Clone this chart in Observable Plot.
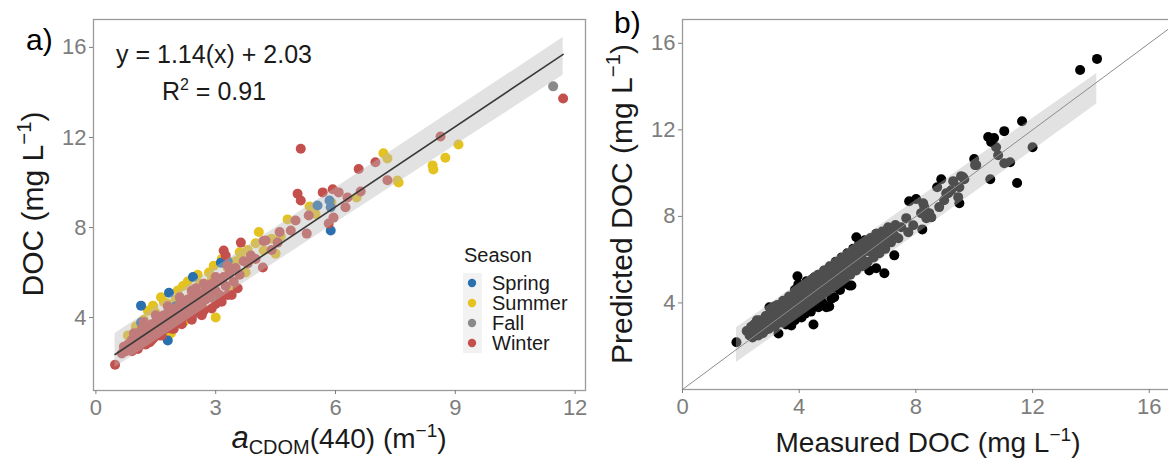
<!DOCTYPE html>
<html>
<head>
<meta charset="utf-8">
<script src="https://cdn.jsdelivr.net/npm/d3@7"></script>
<script src="https://cdn.jsdelivr.net/npm/@observablehq/plot@0.6"></script>
<style>
  html, body { margin: 0; padding: 0; background: #fff; overflow: hidden; }
  #wrap { position: relative; width: 1168px; height: 460px; overflow: hidden; font-family: "Liberation Sans", Arial, sans-serif; }
  #wrap > svg, #wrap > div { position: absolute; top: 0; }
</style>
</head>
<body>
<div id="wrap"></div>
<script>
// ---------- Panel a: DOC vs aCDOM(440) by season ----------
const seasons = ["Spring", "Summer", "Fall", "Winter"];
const seasonColors = ["#2a6fae", "#e4c21f", "#8a8a8a", "#c4504d"];
const xTicksA = [0, 3, 6, 9, 12];
const yTicksA = [4, 8, 12, 16];

const acdomSpring = [1.13, 1.83, 2.43, 3.2, 1.8, 1.13, 5.55, 5.85, 5.88, 5.88, 2.0, 2.6, 3.08, 1.5, 3.3, 3.13];
const docSpring   = [4.53, 5.1, 5.8, 6.44, 2.98, 3.78, 8.98, 9.2, 8.9, 7.87, 4.5, 4.2, 4.98, 3.6, 6.5, 6.44];

const acdomSummer = [1.43, 1.63, 2.18, 2.83, 3.0, 3.63, 4.08, 4.2, 4.5, 4.63, 4.8, 5.35, 6.53, 7.2, 7.3, 7.55, 7.58, 8.43, 8.45, 8.75, 9.08,
                     1.88, 1.2, 1.5, 1.8, 2.0, 2.4, 2.6, 2.9, 3.3, 3.5, 1.0, 0.8, 2.7, 3.4, 2.2, 4.0, 3.9, 4.4, 5.5, 5.9, 1.43, 2.35, 3.75,
                     1.3, 1.7, 2.05, 2.3, 2.55, 3.15, 3.6, 1.1, 2.8, 3.8, 2.95];
const docSummer   = [4.53, 4.9, 5.4, 6.0, 4.0, 6.84, 7.8, 6.98, 6.84, 7.6, 8.36, 8.93, 9.33, 11.3, 11.07, 10.09, 10.0, 10.76, 10.58, 11.1, 11.69,
                     3.3, 3.9, 4.2, 4.6, 4.8, 5.1, 5.5, 5.7, 6.2, 6.5, 3.6, 3.2, 4.4, 5.2, 3.8, 7.3, 6.6, 7.5, 8.6, 9.1, 4.44, 4.3, 6.0,
                     4.3, 4.7, 5.2, 5.6, 5.9, 6.6, 6.9, 3.6, 5.2, 7.0, 6.3];

const acdomFall = [11.45, 2.3, 1.6, 2.9];
const docFall   = [14.27, 4.3, 3.5, 5.0];

const acdomWinter = [0.48, 0.65, 0.7, 0.75, 0.8, 0.85, 0.9, 0.95, 1.0, 1.0, 1.05, 1.1, 1.1, 1.15, 1.2, 1.2, 1.25, 1.3, 1.3, 1.35,
                     1.4, 1.4, 1.45, 1.5, 1.5, 1.55, 1.6, 1.6, 1.65, 1.7, 1.7, 1.75, 1.8, 1.8, 1.85, 1.9, 1.9, 1.95, 2.0, 2.0,
                     2.05, 2.1, 2.1, 2.15, 2.2, 2.2, 2.25, 2.3, 2.3, 2.35, 2.4, 2.45, 2.5, 2.55, 2.6, 2.65, 2.7, 2.75, 2.8, 2.85,
                     2.9, 3.0, 3.05, 3.1, 3.2, 3.25, 3.35, 3.45, 3.5, 3.6, 3.2, 3.25, 3.63, 3.88, 4.18, 4.2, 4.25, 4.55, 4.88, 5.0,
                     5.28, 5.33, 5.05, 5.13, 5.13, 5.68, 5.93, 6.08, 6.3, 6.25, 5.83, 5.95, 6.63, 6.58, 7.0, 7.3, 8.63, 11.7,
                     1.35, 0.95, 2.5, 3.8, 4.0, 4.4, 1.05, 1.25, 1.6, 1.95, 2.4, 2.7, 3.0, 3.3,
                     0.9, 1.15, 1.4, 1.65, 1.9, 2.15, 2.4, 2.65, 2.9, 3.15, 3.4, 1.2, 1.5, 1.8, 2.1, 2.4, 2.7, 3.0, 3.3, 3.7, 4.6, 3.55];
const docWinter   = [1.9, 2.4, 2.7, 2.5, 2.8, 2.6, 3.0, 2.7, 3.1, 2.8, 3.3, 2.9, 3.2, 3.5, 3.1, 3.4, 3.0, 3.6, 3.3, 3.2,
                     3.7, 3.4, 3.1, 3.8, 3.5, 3.3, 3.9, 3.6, 3.4, 4.1, 3.7, 3.5, 4.2, 3.9, 3.6, 4.3, 4.0, 3.7, 4.4, 4.1,
                     3.8, 4.6, 4.2, 3.9, 4.7, 4.4, 4.1, 4.8, 4.5, 4.2, 4.9, 4.6, 4.3, 5.0, 4.7, 4.5, 5.1, 4.8, 5.3, 4.9,
                     5.5, 5.2, 5.6, 5.0, 5.8, 5.4, 6.0, 5.6, 6.2, 5.9, 6.98, 6.76, 7.33, 6.76, 6.22, 7.4, 7.42, 7.33, 7.87, 8.31,
                     7.73, 8.53, 9.5, 9.2, 11.5, 9.56, 9.7, 9.56, 9.33, 8.9, 8.18, 8.44, 9.6, 10.6, 10.9, 10.1, 12.04, 13.73,
                     2.9, 3.3, 5.3, 6.4, 6.6, 7.0, 2.6, 2.8, 3.2, 3.5, 4.0, 4.3, 4.6, 5.0,
                     2.5, 2.8, 3.0, 3.2, 3.5, 3.7, 3.9, 4.1, 4.4, 4.7, 5.0, 3.8, 4.1, 4.5, 4.9, 5.2, 5.5, 5.8, 6.3, 6.5, 7.8, 5.3];

// fitted line and its grey band
const fitX  = [0.48, 11.7];
const fitY  = [2.36, 15.69];
const bandAX  = [0.48, 6.0, 11.7];
const bandALo = [1.78, 8.2, 14.76];
const bandAHi = [3.29, 9.75, 16.44];

// ---------- Panel b: predicted vs measured DOC ----------
const xTicksB = [0, 4, 8, 12, 16];
const yTicksB = [4, 8, 12, 16];
const measuredDOC = [
  1.85, 5.96, 6.64, 3.94, 3.97, 2.98, 3.15, 4.49, 4.93, 5.03, 5.79, 6.4, 6.64, 6.92, 4.93, 4.52, 3.29, 3.73, 4.08, 4.66,
  5.2, 7.26, 5.72, 11.64, 11.03, 10.48, 10.68, 10.58, 12.0, 10.75, 10.82, 11.03, 11.23, 10.55, 11.47, 10.0, 10.03, 8.87, 9.28, 9.55,
  9.66, 9.49, 9.21, 9.11, 8.97, 8.8, 9.45, 8.73, 9.49, 7.77, 8.01, 8.29, 8.53, 8.18, 8.36, 8.22, 7.67, 7.5, 7.91, 7.74,
  7.26, 7.4, 6.92, 6.71, 6.47, 6.13, 13.63, 14.21, 9.62, 9.04, 8.25, 8.46, 10.07,
  2.3, 2.4, 2.4, 2.5, 2.5, 2.6, 2.6, 2.7, 2.7, 2.8, 2.8, 2.9, 2.9, 3.0, 3.0, 3.0, 3.1, 3.1, 3.2, 3.2,
  3.2, 3.3, 3.3, 3.4, 3.4, 3.4, 3.5, 3.5, 3.5, 3.6, 3.6, 3.6, 3.7, 3.7, 3.8, 3.8, 3.8, 3.9, 3.9, 3.9,
  4.0, 4.0, 4.0, 4.1, 4.1, 4.2, 4.2, 4.2, 4.3, 4.3, 4.4, 4.4, 4.4, 4.5, 4.5, 4.6, 4.6, 4.7, 4.7, 4.8,
  4.8, 4.9, 4.9, 5.0, 5.0, 5.1, 5.2, 5.2, 5.3, 5.4, 5.4, 5.5, 5.6, 5.6, 5.7, 5.8, 5.8, 5.9, 6.0, 6.0,
  6.1, 6.2, 6.3, 6.4, 6.5, 6.6, 6.7, 6.8, 6.9, 7.0, 7.1, 7.2, 2.2, 2.35, 2.55,
  2.45, 2.65, 2.85, 3.05, 3.25, 3.45, 3.65, 3.85, 4.05, 4.25, 4.45, 4.65, 4.85, 5.05, 5.25, 5.45, 5.65, 5.85, 6.05, 6.25,
  6.45, 6.65, 6.85, 7.05, 7.3, 2.75, 2.95, 3.15, 3.35, 3.55, 3.75, 3.95, 4.15, 4.35, 4.55, 4.75, 4.95, 5.15, 5.35, 5.55,
  5.75, 5.95, 6.15, 6.35, 6.55, 6.75, 6.95, 7.15, 3.55, 3.85, 4.2, 4.4, 4.8, 5.1, 5.4, 5.6];
const predictedDOC = [
  2.18, 7.04, 7.2, 5.23, 4.86, 3.8, 3.84, 3.0, 3.8, 3.84, 4.81, 5.5, 5.6, 5.37, 5.51, 5.19, 2.59, 2.96, 3.33, 3.8,
  4.26, 6.2, 4.81, 12.4, 11.94, 11.67, 11.62, 11.44, 11.2, 11.2, 10.83, 10.46, 10.5, 9.72, 9.54, 10.65, 10.37, 9.72, 9.63, 9.86,
  9.72, 9.35, 9.21, 9.07, 8.75, 8.43, 8.89, 9.35, 8.61, 8.7, 8.8, 8.43, 7.96, 8.15, 7.92, 7.4, 7.92, 7.5, 7.59, 7.27,
  7.13, 6.99, 6.9, 6.57, 6.34, 6.11, 14.77, 15.28, 9.81, 9.07, 8.61, 8.15, 10.37,
  2.5, 2.7, 2.4, 2.8, 2.6, 2.9, 2.5, 3.1, 2.8, 3.0, 2.7, 3.3, 3.0, 3.2, 2.9, 3.5, 3.1, 3.4, 3.6, 3.3,
  3.0, 3.5, 3.8, 3.4, 3.7, 3.2, 3.9, 3.6, 3.3, 3.8, 4.1, 3.5, 3.7, 4.0, 4.2, 3.9, 3.6, 4.1, 4.4, 3.8,
  4.0, 4.3, 3.7, 4.5, 4.2, 4.4, 4.0, 4.7, 4.3, 4.6, 4.5, 4.2, 4.8, 4.7, 4.4, 4.9, 4.6, 4.8, 4.5, 5.0,
  4.7, 5.2, 4.9, 5.1, 4.8, 5.3, 5.5, 5.1, 5.4, 5.7, 5.3, 5.6, 5.9, 5.5, 5.8, 6.1, 5.7, 6.0, 6.3, 5.9,
  6.2, 6.5, 6.4, 6.7, 6.6, 6.9, 6.8, 7.1, 7.0, 7.3, 7.2, 7.4, 2.7, 2.9, 3.2,
  3.0, 3.2, 3.4, 3.7, 3.9, 4.1, 4.3, 4.6, 4.8, 5.0, 5.1, 5.3, 5.5, 5.7, 5.9, 6.1, 6.3, 6.5, 6.7, 6.9,
  7.0, 7.2, 7.3, 7.5, 7.6, 2.6, 2.8, 2.9, 3.1, 3.2, 3.4, 3.6, 3.8, 3.9, 4.1, 4.3, 4.5, 4.7, 4.9, 5.1,
  5.3, 5.5, 5.7, 5.9, 6.1, 6.3, 6.5, 6.8, 3.0, 3.2, 3.5, 3.6, 4.0, 4.2, 4.6, 4.9];
const bandBX  = [1.85, 8.0, 14.2];
const bandBLo = [1.25, 7.15, 13.2];
const bandBHi = [2.85, 8.75, 14.6];
const oneToOne = [0, 17];

// ---------- build tables ----------
const seasonX = [acdomSpring, acdomSummer, acdomFall, acdomWinter];
const seasonY = [docSpring, docSummer, docFall, docWinter];
const drawOrder = [1, 0, 2, 3]; // Summer, Spring, Fall, Winter
const pointsA = [];
for (const i of drawOrder) seasonX[i].forEach((x, j) => pointsA.push({season: seasons[i], x, y: seasonY[i][j]}));
const lineA = fitX.map((x, i) => ({x, y: fitY[i]}));
const bandA = bandAX.map((x, i) => ({x, lo: bandALo[i], hi: bandAHi[i]}));
const pointsB = measuredDOC.map((m, i) => ({m, p: predictedDOC[i]}));
const bandB = bandBX.map((x, i) => ({x, lo: bandBLo[i], hi: bandBHi[i]}));
const lineB = oneToOne.map(v => ({x: v, y: v}));

const FONT = '"Liberation Sans", Arial, sans-serif';
const tickColor = "#7d7d7d";
const wrap = document.getElementById("wrap");

const chartA = Plot.plot({
  width: 600, height: 460,
  marginLeft: 93, marginRight: 15, marginTop: 19, marginBottom: 70,
  style: {fontFamily: FONT, background: "transparent"},
  x: {domain: [-0.06, 12.26]},
  y: {domain: [0.76, 17.24]},
  color: {domain: seasons, range: seasonColors},
  marks: [
    Plot.dot(pointsA, {x: "x", y: "y", fill: "season", r: 5, stroke: "none"}),
    Plot.areaY(bandA, {x: "x", y1: "lo", y2: "hi", fill: "#b9b9b9", fillOpacity: 0.42}),
    Plot.line(lineA, {x: "x", y: "y", stroke: "#3a3a3a", strokeWidth: 1.6}),
    Plot.frame({stroke: "#9a9a9a", strokeWidth: 1.3}),
    Plot.axisX({ticks: xTicksA, tickSize: 4, tickPadding: 5, fontSize: 22, color: tickColor, label: null}),
    Plot.axisY({ticks: yTicksA, tickSize: 4, tickPadding: 3, fontSize: 22, color: tickColor, label: null})
  ]
});
chartA.style.left = "0px";
wrap.appendChild(chartA);

const chartB = Plot.plot({
  width: 600, height: 460,
  marginLeft: 82, marginRight: 25, marginTop: 19, marginBottom: 71,
  style: {fontFamily: FONT, background: "transparent"},
  x: {domain: [0, 16.9]},
  y: {domain: [0, 17.1]},
  marks: [
    Plot.dot(pointsB, {x: "m", y: "p", fill: "#000", r: 5, stroke: "none"}),
    Plot.areaY(bandB, {x: "x", y1: "lo", y2: "hi", fill: "#b9b9b9", fillOpacity: 0.42}),
    Plot.line(lineB, {x: "x", y: "y", stroke: "#8c8c8c", strokeWidth: 1, clip: true}),
    Plot.frame({stroke: "#9a9a9a", strokeWidth: 1.3}),
    Plot.axisX({ticks: xTicksB, tickSize: 4, tickPadding: 5, fontSize: 22, color: tickColor, label: null}),
    Plot.axisY({ticks: yTicksB, tickSize: 4, tickPadding: 3, fontSize: 22, color: tickColor, label: null})
  ]
});
chartB.style.left = "600px";
wrap.appendChild(chartB);

// ---------- overlay text: titles, labels, equation, legend ----------
const ov = d3.select(wrap).append("svg")
  .attr("width", 1168).attr("height", 460)
  .style("position", "absolute").style("left", "0px").style("top", "0px")
  .style("pointer-events", "none")
  .attr("font-family", FONT).attr("fill", "#1a1a1a");

function withUnit(t, pre, size) {
  t.append("tspan").text(pre + "(mg L");
  t.append("tspan").attr("font-size", size * 0.68).attr("dy", -size * 0.4).text("\u22121");
  t.append("tspan").attr("dy", size * 0.4).text(")");
}

// panel labels
ov.append("text").attr("x", 26).attr("y", 50).attr("font-size", 30).attr("fill", "#000").text("a)");
ov.append("text").attr("x", 614).attr("y", 33).attr("font-size", 30).attr("fill", "#000").text("b)");

// y titles
const yA = ov.append("text").attr("transform", "translate(43,204) rotate(-90)")
  .attr("text-anchor", "middle").attr("font-size", 30);
withUnit(yA, "DOC ", 30);
const yB = ov.append("text").attr("transform", "translate(632,204) rotate(-90)")
  .attr("text-anchor", "middle").attr("font-size", 30);
withUnit(yB, "Predicted DOC ", 30);

// x titles
const xA = ov.append("text").attr("x", 339).attr("y", 448).attr("text-anchor", "middle").attr("font-size", 28);
xA.append("tspan").attr("font-style", "italic").attr("font-size", 31).text("a");
xA.append("tspan").attr("font-size", 20).attr("dy", 6).text("CDOM");
xA.append("tspan").attr("dy", -6).text("(440) (m");
xA.append("tspan").attr("font-size", 19).attr("dy", -11).text("\u22121");
xA.append("tspan").attr("dy", 11).text(")");

const xB = ov.append("text").attr("x", 928).attr("y", 452).attr("text-anchor", "middle").attr("font-size", 28);
withUnit(xB, "Measured DOC ", 28);

// equation
ov.append("text").attr("x", 214).attr("y", 63).attr("text-anchor", "middle").attr("font-size", 25)
  .text("y = 1.14(x) + 2.03");
const r2 = ov.append("text").attr("x", 214).attr("y", 100).attr("text-anchor", "middle").attr("font-size", 25);
r2.append("tspan").text("R");
r2.append("tspan").attr("font-size", 16).attr("dy", -10).text("2");
r2.append("tspan").attr("dy", 10).text(" = 0.91");

// legend
ov.append("text").attr("x", 464).attr("y", 262).attr("font-size", 20).text("Season");
const keyY = [283, 303, 323, 343];
ov.append("rect").attr("x", 463).attr("y", 273).attr("width", 19).attr("height", 80).attr("fill", "#f2f2f2");
seasons.forEach((s, i) => {
  ov.append("circle").attr("cx", 472).attr("cy", keyY[i]).attr("r", 4.2).attr("fill", seasonColors[i]);
  ov.append("text").attr("x", 492).attr("y", keyY[i] + 7).attr("font-size", 20).text(s);
});
</script>
</body>
</html>
